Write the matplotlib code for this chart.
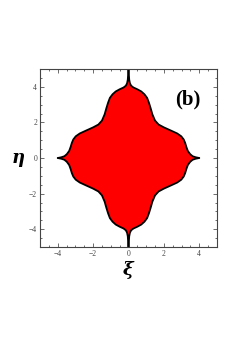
import numpy as np
import matplotlib.pyplot as plt
from matplotlib.ticker import MultipleLocator

# boundary of the region in the first quadrant
# (from the eta-axis spike down to the xi-axis spike)
xi_q = [0.0, 0.02, 0.04, 0.08, 0.15, 0.28, 0.5, 0.72, 0.9, 1.05, 1.15,
        1.25, 1.35, 1.5, 1.7, 2.0, 2.4, 2.75, 2.98, 3.12, 3.2, 3.27,
        3.35, 3.48, 3.62, 3.8, 4.0]
eta_q = [5.0, 4.7, 4.4, 4.2, 4.06, 3.96, 3.86, 3.74, 3.58, 3.38, 3.12,
         2.8, 2.45, 2.1, 1.88, 1.72, 1.54, 1.38, 1.22, 1.04, 0.85, 0.62,
         0.4, 0.22, 0.1, 0.04, 0.0]

xq = np.array(xi_q)
yq = np.array(eta_q)
# mirror the quadrant into a closed curve
bx = np.concatenate([xq, xq[::-1][1:], -xq[1:], -xq[::-1][1:-1]])
by = np.concatenate([yq, -yq[::-1][1:], -yq[1:], yq[::-1][1:-1]])

fig = plt.figure(figsize=(2.4, 3.39), dpi=100)
ax = fig.add_axes([40 / 240, 92 / 339, 177 / 240, 178 / 339])
ax.fill(bx, by, color='#ff0000', edgecolor='black', linewidth=1.3,
        joinstyle='round')
ax.set_xlim(-5, 5)
ax.set_ylim(-5, 5)
ax.xaxis.set_major_locator(MultipleLocator(2))
ax.yaxis.set_major_locator(MultipleLocator(2))
ax.xaxis.set_minor_locator(MultipleLocator(0.5))
ax.yaxis.set_minor_locator(MultipleLocator(0.5))
ax.tick_params(which='both', direction='in', top=True, right=True,
               labelsize=5.5, pad=2, width=0.5, colors='#333333',
               labelcolor='#444444')
ax.tick_params(which='major', length=3)
ax.tick_params(which='minor', length=1.5)
for lab in ax.get_xticklabels() + ax.get_yticklabels():
    lab.set_family('Liberation Serif')
for s in ax.spines.values():
    s.set_linewidth(0.8)
    s.set_color('#444444')

ax.set_xlabel('ξ', fontsize=13, family='DejaVu Serif', style='italic',
              weight='bold', labelpad=2)
ax.set_ylabel('η', fontsize=13, family='DejaVu Serif', style='italic',
              weight='bold', rotation=0, labelpad=8, va='center')
ax.text(3.35, 3.3, '(b)', fontsize=15, family='Liberation Serif',
        weight='bold', ha='center', va='center')

fig.savefig('out.png', dpi=100)
plt.close(fig)
